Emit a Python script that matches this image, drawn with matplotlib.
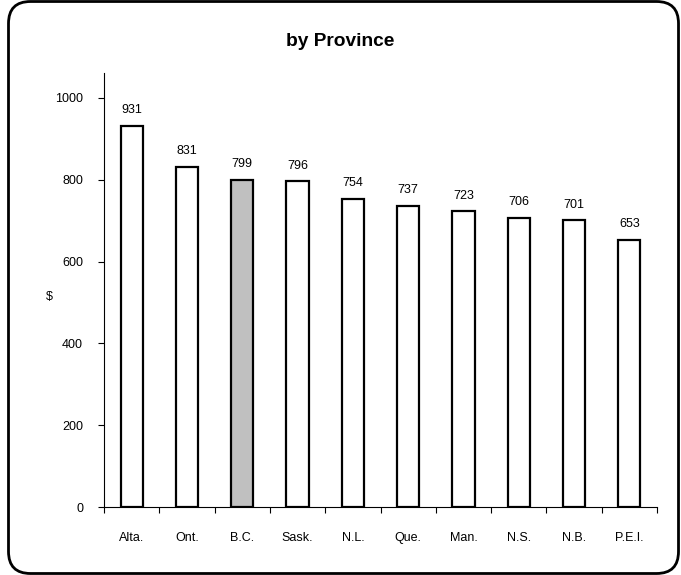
import matplotlib
matplotlib.use("Agg")
import matplotlib.pyplot as plt
from matplotlib.patches import FancyBboxPatch
import numpy as np

provinces = ["Alta.", "Ont.", "B.C.", "Sask.", "N.L.", "Que.", "Man.", "N.S.", "N.B.", "P.E.I."]
values = [931, 831, 799, 796, 754, 737, 723, 706, 701, 653]
highlight = "B.C."
title = "by Province"
ylabel = "$"
yticks = [0, 200, 400, 600, 800, 1000]

plt.rcParams['font.family'] = ['Liberation Sans', 'DejaVu Sans']

fig = plt.figure(figsize=(6.81, 5.75), dpi=100)
fig.patch.set_facecolor("white")

border = FancyBboxPatch((0.085, 0.015), 6.785 - 0.085, 5.735 - 0.015,
                        boxstyle="round,pad=0,rounding_size=0.22",
                        transform=fig.dpi_scale_trans, facecolor="none",
                        edgecolor="black", linewidth=2.0)
fig.patches.append(border)

ax = fig.add_axes([104/681, 1 - 507/575, 553/681, 434/575])
x = np.arange(len(provinces))
colors = ["#C0C0C0" if p == highlight else "white" for p in provinces]
bars = ax.bar(x, values, width=0.4, color=colors, edgecolor="black", linewidth=1.6, zorder=3)
for xi, v in zip(x, values):
    ax.annotate(str(v), (xi, v), xytext=(0, 7), textcoords="offset points",
                ha="center", va="bottom", fontsize=9)

ax.set_xlim(-0.5, len(provinces) - 0.5)
ax.set_ylim(0, 1061)
ax.set_yticks(yticks)
ax.set_yticklabels([str(t) for t in yticks], fontsize=9)
ax.tick_params(axis="y", direction="out", length=4, width=0.8, pad=11)
ax.set_xticks(x)
ax.set_xticklabels(provinces, fontsize=9)
ax.tick_params(axis="x", which="major", length=0, pad=18)
ax.set_xticks(np.arange(-0.5, len(provinces)), minor=True)
ax.tick_params(axis="x", which="minor", direction="out", length=4, width=0.8)

for s in ["top", "right"]:
    ax.spines[s].set_visible(False)
for s in ["left", "bottom"]:
    ax.spines[s].set_linewidth(0.8)

ax.set_ylabel(ylabel, fontsize=9, rotation=0, va="center", ha="center")
ax.yaxis.set_label_coords(-0.098, 0.484)
fig.text(0.5, 1 - 42/575, title, ha="center", va="center", fontsize=13.8, fontweight="bold")

fig.savefig("out.png", dpi=100)
